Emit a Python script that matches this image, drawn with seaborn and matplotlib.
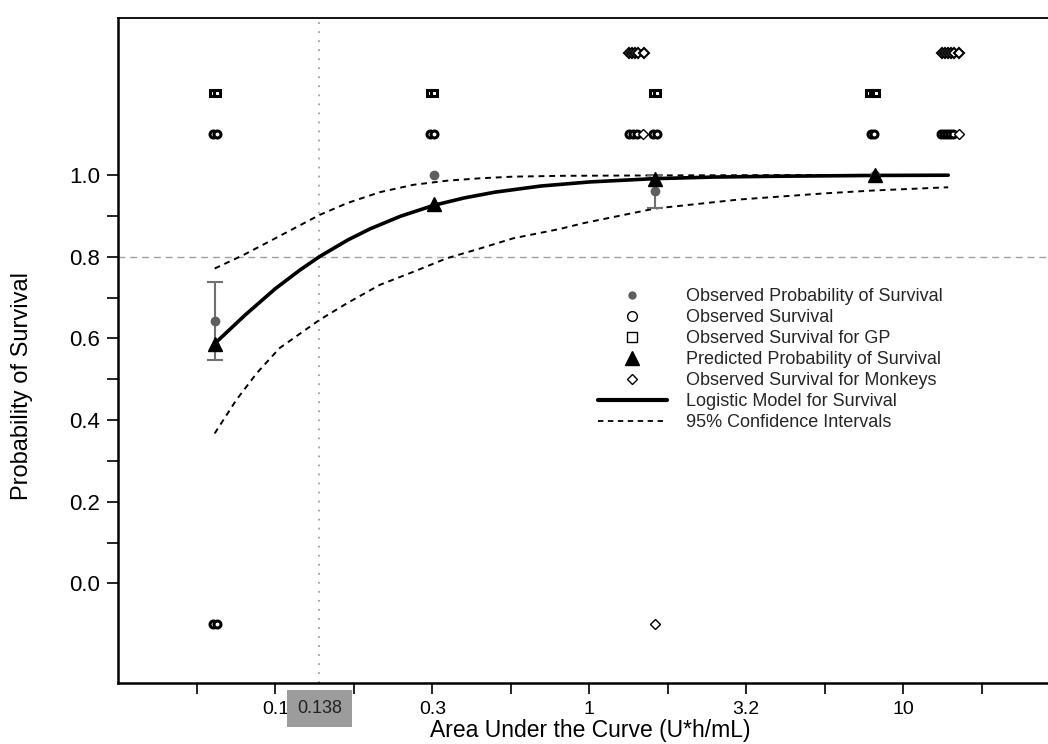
import matplotlib
matplotlib.use("Agg")
import numpy as np
import matplotlib.pyplot as plt
from matplotlib.lines import Line2D
from matplotlib.ticker import NullLocator
from matplotlib.transforms import blended_transform_factory
import seaborn as sns

sns.set_theme(style="ticks")
plt.rcParams['font.family'] = ['Liberation Sans', 'DejaVu Sans']

# ---------------------------------------------
# values
# ---------------------------------------------
dose = [0.064, 0.32, 1.62, 8.1]
obs_prob = [0.643, 1.0, 0.96, 1.0]
obs_lo = [0.547, 1.0, 0.92, 1.0]
obs_hi = [0.737, 1.0, 1.0, 1.0]
pred_prob = [0.587, 0.93, 0.99, 0.999]

# logistic model curve
model_x = [0.064, 0.08, 0.1, 0.12, 0.138, 0.17, 0.2, 0.25, 0.32, 0.4, 0.5,
           0.7, 1.0, 1.6, 2.5, 4.0, 8.1, 13.9]
model_y = [0.587, 0.657, 0.722, 0.768, 0.80, 0.841, 0.868, 0.899, 0.926, 0.944,
           0.958, 0.973, 0.983, 0.991, 0.995, 0.997, 0.999, 0.9995]

# 95% confidence limits
ci_up_x = [0.064, 0.079, 0.101, 0.138, 0.169, 0.215, 0.275, 0.351, 0.448, 0.572,
           0.806, 1.62, 3.0, 5.6, 8.0, 13.9]
ci_up_y = [0.771, 0.804, 0.847, 0.902, 0.931, 0.958, 0.976, 0.986, 0.992, 0.996,
           0.998, 0.999, 0.9995, 1.0, 1.0, 1.0]
ci_lo_x = [0.064, 0.075, 0.087, 0.103, 0.138, 0.169, 0.215, 0.275, 0.351, 0.448,
           0.572, 0.806, 0.956, 1.62, 3.0, 5.6, 8.0, 13.9]
ci_lo_y = [0.367, 0.449, 0.514, 0.576, 0.645, 0.686, 0.731, 0.763, 0.796, 0.820,
           0.845, 0.868, 0.882, 0.918, 0.94, 0.955, 0.962, 0.970]

# individual animals (survived plotted at 1.1, died at -0.1)
surv_x = [0.0633, 0.0650, 0.3110, 0.3192, 1.336, 1.376, 1.416, 1.598, 1.636,
          7.90, 8.09, 13.16, 13.46, 13.76, 14.07, 14.38]
dead_x = [0.0633, 0.0650]
gp_x = [0.0633, 0.0650, 0.3110, 0.3192, 1.598, 1.636, 7.80, 7.98, 8.17]
monkey_top_x = [1.336, 1.366, 1.396, 1.427, 1.492, 13.26, 13.56, 13.86, 14.17, 14.48, 15.03]
monkey_mid_x = [1.481, 15.03]
monkey_dead_x = [1.617]

auc80 = 0.138

xtick_vals = [0.0562, 0.1, 0.178, 0.316, 0.562, 1.0, 1.78, 3.16, 5.62, 10.0, 17.8]
xtick_labels = ['', '0.1', '', '0.3', '', '1', '', '3.2', '', '10', '']
ytick_vals = [0.0, 0.1, 0.2, 0.3, 0.4, 0.5, 0.6, 0.7, 0.8, 0.9, 1.0]
ytick_labels = ['0.0', '', '0.2', '', '0.4', '', '0.6', '', '0.8', '', '1.0']

# ---------------------------------------------
# figure
# ---------------------------------------------
fig = plt.figure(figsize=(10.48, 7.44), dpi=100)
ax = fig.add_axes([118 / 1048, 61 / 744, 930 / 1048, 665 / 744])
ax.set_xscale('log')
ax.set_xlim(0.0315, 28.9)
ax.set_ylim(-0.244, 1.3845)

# 80% survival reference lines
ax.axhline(0.8, color='#a0a0a0', lw=1.0, ls=(0, (5, 3.5)), zorder=1)
ax.axvline(auc80, color='#a0a0a0', lw=1.3, ls=(0, (1, 4)), zorder=1)

# model and confidence limits
sns.lineplot(x=model_x, y=model_y, color='black', lw=2.6, ax=ax, zorder=3)
sns.lineplot(x=ci_up_x, y=ci_up_y, color='black', lw=1.4, ls=(0, (3, 2.5)), ax=ax, zorder=2)
sns.lineplot(x=ci_lo_x, y=ci_lo_y, color='black', lw=1.4, ls=(0, (3, 2.5)), ax=ax, zorder=2)

# observed probability with error bars
d = np.array(dose)
p = np.array(obs_prob)
lo = np.array(obs_lo)
hi = np.array(obs_hi)
m = (hi - lo) > 0
ax.errorbar(d[m], p[m], yerr=[p[m] - lo[m], hi[m] - p[m]], fmt='none',
            ecolor='#707070', elinewidth=1.5, capsize=6, capthick=1.5, zorder=3)
ax.plot(dose, obs_prob, 'o', color='#5e5e5e', ms=6, zorder=4)

# predicted
ax.plot(dose, pred_prob, '^', color='black', ms=10, zorder=5)

# individual outcomes
open_kw = dict(ls='none', mfc='white', mec='black', zorder=4)
ax.plot(surv_x, [1.1] * len(surv_x), marker='o', ms=5, mew=2.2, **open_kw)
ax.plot(dead_x, [-0.1] * len(dead_x), marker='o', ms=5, mew=2.2, **open_kw)
ax.plot(gp_x, [1.2] * len(gp_x), marker='s', ms=5, mew=2.2, **open_kw)
ax.plot(monkey_top_x, [1.3] * len(monkey_top_x), marker='D', ms=5.5, mew=1.5, **open_kw)
ax.plot(monkey_mid_x, [1.1] * len(monkey_mid_x), marker='D', ms=5.5, mew=1.0, **open_kw)
ax.plot(monkey_dead_x, [-0.1] * len(monkey_dead_x), marker='D', ms=5.5, mew=1.0, **open_kw)

# axes styling
ax.set_xticks(xtick_vals)
ax.set_xticklabels(xtick_labels)
ax.xaxis.set_minor_locator(NullLocator())
ax.set_yticks(ytick_vals)
ax.set_yticklabels(ytick_labels)
ax.tick_params(axis='both', direction='out', length=8, width=1.2, color='black')
ax.tick_params(axis='x', pad=5, labelsize=14, labelcolor='black')
ax.tick_params(axis='y', pad=5, labelsize=16, labelcolor='black')
ax.spines['right'].set_visible(False)
ax.spines['top'].set_linewidth(1.3)
ax.spines['left'].set_linewidth(1.8)
ax.spines['bottom'].set_linewidth(1.8)
for s in ax.spines.values():
    s.set_color('black')

# highlighted 0.138 tick
trans = blended_transform_factory(ax.transData, ax.transAxes)
ax.text(auc80, -0.0383, '0.138', transform=trans, ha='center', va='center',
        fontsize=13, color='#222222',
        bbox=dict(boxstyle='square,pad=0.55', fc='#9c9c9c', ec='none'),
        clip_on=False)

fig.text(22 / 1048, 1 - 386 / 744, 'Probability of Survival', rotation=90,
         ha='center', va='center', fontsize=17, color='black')
fig.text(590 / 1048, 1 - 731 / 744, 'Area Under the Curve (U*h/mL)',
         ha='center', va='center', fontsize=16.5, color='black')

# legend
handles = [
    Line2D([], [], ls='none', marker='o', color='#5e5e5e', ms=5),
    Line2D([], [], ls='none', marker='o', mfc='none', mec='black', ms=7, mew=1),
    Line2D([], [], ls='none', marker='s', mfc='none', mec='black', ms=7, mew=1),
    Line2D([], [], ls='none', marker='^', color='black', ms=10),
    Line2D([], [], ls='none', marker='D', mfc='none', mec='black', ms=5, mew=1),
    Line2D([], [], color='black', lw=3),
    Line2D([], [], color='black', lw=1.3, ls=(0, (3, 2.5))),
]
labels = [
    'Observed Probability of Survival',
    'Observed Survival',
    'Observed Survival for GP',
    'Predicted Probability of Survival',
    'Observed Survival for Monkeys',
    'Logistic Model for Survival',
    '95% Confidence Intervals',
]
ax.legend(handles, labels, loc='upper left', bbox_to_anchor=(598 / 1048, 1 - 288 / 744),
          bbox_transform=fig.transFigure, frameon=False, fontsize=13,
          handlelength=3.8, handletextpad=1.1, labelspacing=0.22,
          borderpad=0, borderaxespad=0)

fig.savefig('out.png', dpi=100)
